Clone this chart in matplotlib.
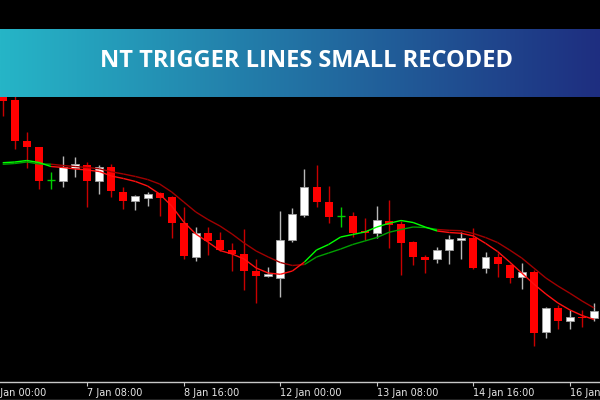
import numpy as np
import matplotlib
matplotlib.use('Agg')
import matplotlib.pyplot as plt
from matplotlib.collections import LineCollection
from matplotlib.colors import LinearSegmentedColormap

# H4 candles (price in chart points)
opens = [306, 300, 259.3, 252.7, 220, 219.3, 232, 234.7, 219.3, 232.7,
         208, 198.7, 202.3, 206.7, 203, 177, 142.7, 167.3, 160, 150,
         146.3, 129, 124.3, 121.7, 160.3, 185.3, 212.7, 197.7, 183.7, 184,
         169, 167.3, 179.3, 176.5, 157.7, 142.7, 141.3, 150, 160.3, 162,
         131.7, 143, 135.3, 123.3, 128.3, 68.3, 92, 79.3, 83.5, 82]
highs = [312, 306, 268, 253, 228.3, 244, 243.3, 237.7, 235, 236,
         212.7, 205, 208.3, 208, 204, 193.3, 173.3, 173.3, 168.3, 156.7,
         170.7, 141, 133.3, 188.7, 192, 231, 235.3, 213.7, 193.3, 188,
         182, 194, 200, 179, 159, 145, 152.7, 165, 168, 172.3,
         147.7, 146.7, 136, 136.7, 130, 93, 95, 90, 90, 96.7]
lows = [284, 251, 232.3, 211, 211, 213.3, 222.7, 192.7, 206.3, 203.3,
        191.3, 190, 194.3, 184.3, 162.3, 140.7, 139.3, 145.3, 149.3, 129.3,
        110, 97.3, 122.7, 102.7, 157.7, 183.3, 192.7, 177.3, 173.3, 162.7,
        160, 161.7, 152, 125, 135.3, 127.3, 136.7, 136.3, 141.3, 131,
        127.3, 123.3, 117.3, 110.7, 54, 61.7, 71.3, 70.7, 72.7, 79.3]
closes = [299.3, 259, 253, 219.3, 220, 232.7, 236, 219.3, 232.7, 208.7,
          199, 203.7, 206, 202.3, 177, 143.7, 166.7, 159.3, 149.7, 146,
          129.3, 124.3, 126.3, 160, 185.7, 212.7, 198, 183.3, 183.7, 166.7,
          167, 180, 175.3, 157.3, 143, 140.3, 150, 160.7, 162, 132.3,
          142.7, 135.7, 122.3, 127.7, 67.3, 92, 78.7, 82.7, 82.5, 89.3]

# trigger lines
fast_line = [237.3, 238, 239.5, 237.5, 233.5, 232.5, 231, 230, 228.5, 224,
             221.5, 218.5, 214, 206, 194, 178, 166, 158, 149.5, 146,
             141, 132, 127, 125.7, 129, 138, 150, 155.5, 163, 165.5,
             168, 173, 176.7, 179.5, 177.5, 173, 169, 167.5, 166.7, 164,
             156.7, 148.5, 138, 127, 116, 106, 97, 90, 84.5, 80.5]
slow_line = [235.7, 236.5, 238, 236, 235.8, 234.5, 233.5, 232.5, 231.2, 228.2,
             226, 223.5, 220.5, 216, 208, 198, 188, 180.5, 174, 166,
             157, 149, 143, 137.5, 134.5, 135.5, 143, 147, 151, 155.5,
             159, 162.5, 167.7, 170.5, 173, 172.5, 170.5, 169.7, 169.3, 166.5,
             162.5, 157.5, 150, 142, 132, 122, 114, 106.7, 99, 92]

tick_pos = [-1, 7, 15, 23, 31, 39, 47]
tick_labels = ['6 Jan 00:00', '7 Jan 08:00', '8 Jan 16:00', '12 Jan 00:00',
               '13 Jan 08:00', '14 Jan 16:00', '16 Jan 00:00']
title = 'NT TRIGGER LINES SMALL RECODED'

o = np.array(opens)
h = np.array(highs)
l = np.array(lows)
c = np.array(closes)
x = np.arange(len(o))

fig = plt.figure(figsize=(6, 4), dpi=100, facecolor='black')
ax = fig.add_axes([0, 18 / 400, 1, 382 / 400])
ax.set_facecolor('black')

w = 0.66
up = c > o
down = c < o
doji = c == o

# wicks
ax.vlines(x[down], l[down], h[down], color='#c80000', lw=1, zorder=2)
ax.vlines(x[up], l[up], h[up], color='#b8b8b8', lw=1, zorder=2)
ax.vlines(x[doji], l[doji], h[doji], color='#00d000', lw=1, zorder=2)
# bodies
ax.bar(x[down], (o - c)[down], bottom=c[down], width=w, color='#ff0000', lw=0, zorder=3)
ax.bar(x[up], (c - o)[up], bottom=o[up], width=w, color='white',
       edgecolor='#a0a0a0', lw=0.6, zorder=3)
ax.hlines(o[doji], x[doji] - w / 2, x[doji] + w / 2, color='#00d000', lw=1, zorder=3)

# trigger lines, coloured by trend
fast = np.array(fast_line)
slow = np.array(slow_line)
bull = fast > slow
for vals, col_up, col_dn in [(slow, '#00a000', '#a00000'), (fast, '#00ff00', '#ff1010')]:
    pts = np.column_stack([x, vals])
    segs = [[pts[i], pts[i + 1]] for i in range(len(x) - 1)]
    cols = [col_up if bull[i] else col_dn for i in range(len(x) - 1)]
    ax.add_collection(LineCollection(segs, colors=cols, linewidths=1.0, zorder=4))

ax.set_yticks([])
for s in ['top', 'left', 'right']:
    ax.spines[s].set_visible(False)
ax.spines['bottom'].set_color('#c8c8c8')
ax.spines['bottom'].set_linewidth(1)
ax.set_xticks(tick_pos)
ax.set_xticklabels([])
ax.tick_params(axis='x', colors='#c8c8c8', length=3, width=0.8)
# limits after the ticks, so set_xticks does not widen the view
ax.set_xlim(-0.224, -0.224 + 600 / 12.07)
ax.set_ylim(18, 400)
for p, lab in zip(tick_pos, tick_labels):
    ax.annotate(lab, xy=(p, 0), xycoords=('data', 'axes fraction'),
                xytext=(0, -8), textcoords='offset points', ha='left', va='center',
                fontsize=7, color='#e6e6e6', annotation_clip=False)

fig.add_artist(plt.Line2D([0, 1], [0.5 / 400, 0.5 / 400], color='#b0b0b0', lw=1))

# banner
bax = fig.add_axes([0, 1 - 97 / 400, 1, 68 / 400], zorder=10)
cmap = LinearSegmentedColormap.from_list('banner', ['#26b5c7', '#1e2e80'])
bax.imshow(np.linspace(0, 1, 256)[None, :], aspect='auto', cmap=cmap, extent=[0, 1, 0, 1])
bax.set_xlim(0, 1)
bax.set_ylim(0, 1)
bax.axis('off')
bax.text(0.51, 0.53, title, ha='center', va='center', color='white',
         fontsize=17, fontweight='bold', family='Open Sans')

fig.savefig('out.png', dpi=100, facecolor='black')
